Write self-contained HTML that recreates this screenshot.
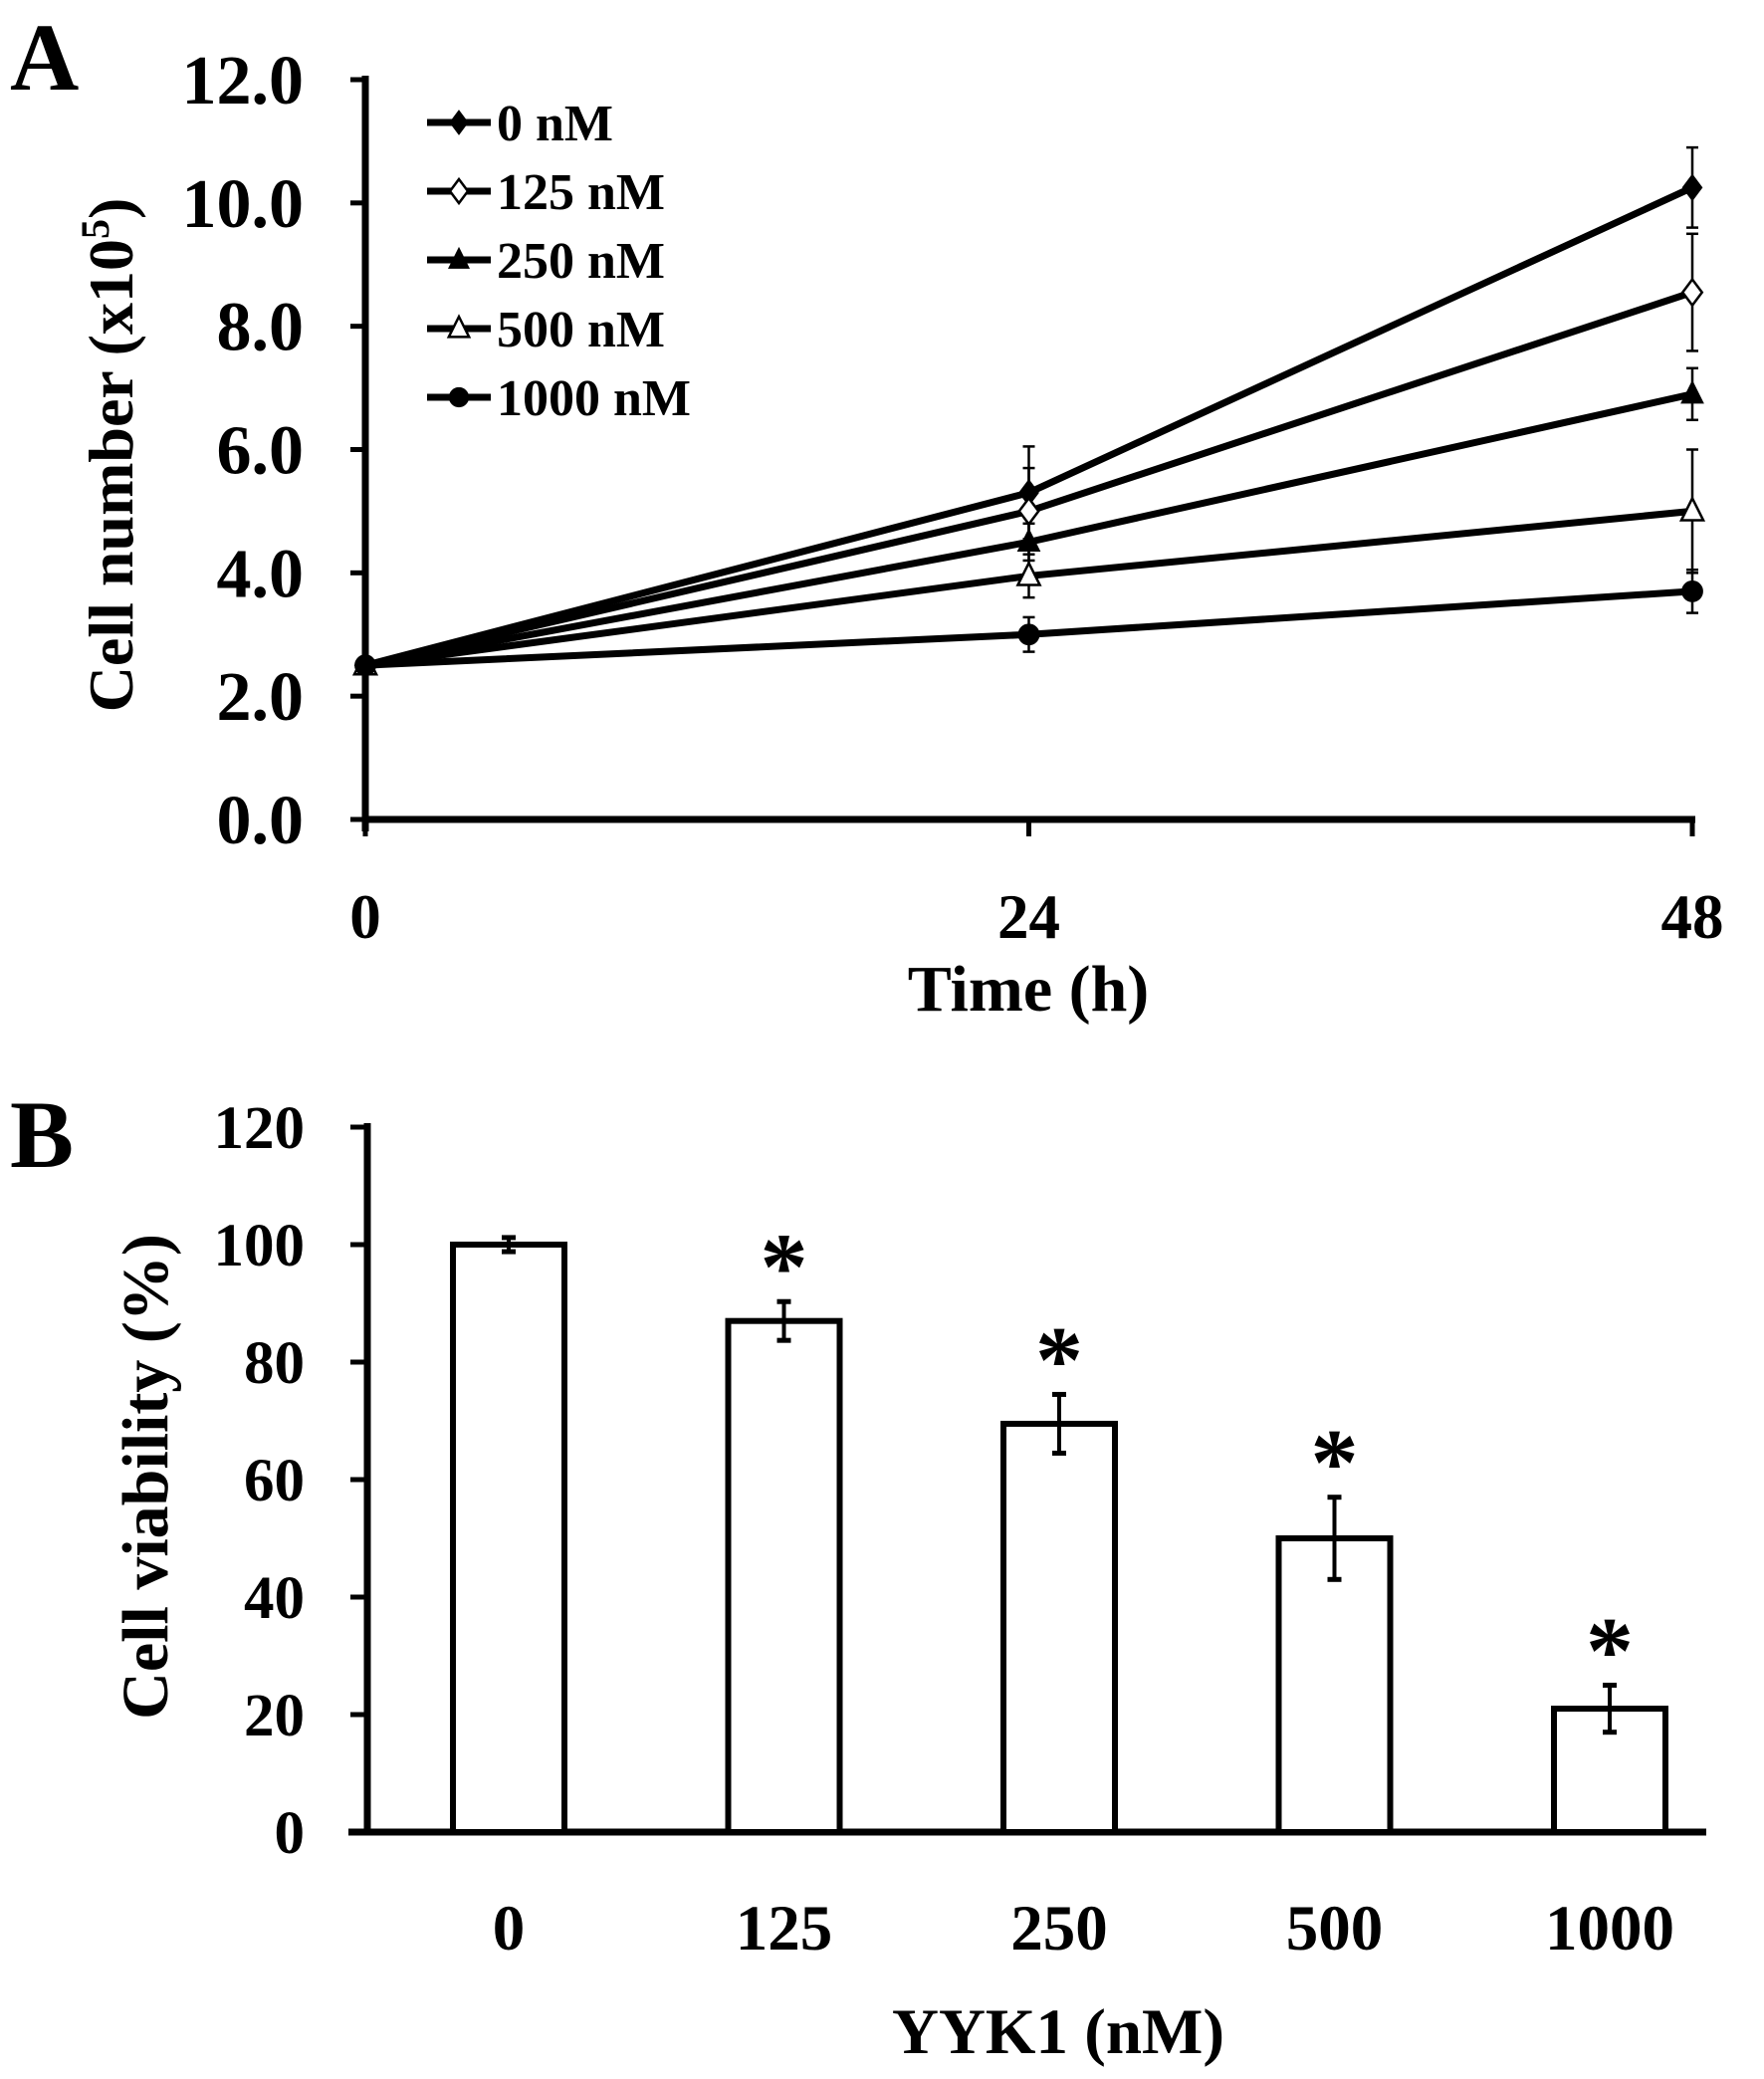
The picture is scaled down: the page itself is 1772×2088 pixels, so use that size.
<!DOCTYPE html>
<html><head><meta charset="utf-8"><style>
html,body{margin:0;padding:0;background:#fff}
svg{display:block}
text{font-family:"Liberation Serif",serif;font-weight:bold;fill:#000}
</style></head><body>
<svg id="fig" width="1772" height="2088" viewBox="0 0 1772 2088">
<text x="10" y="90" font-size="96">A</text>
<text x="10" y="1172" font-size="96">B</text>
<g id="ga"></g>
<g id="gb"></g>
</svg>
<script>
// ---- Chart A data ----
const timesA = [0, 24, 48];
const seriesNames = ["0 nM", "125 nM", "250 nM", "500 nM", "1000 nM"];
const s0 = [2.5, 5.3, 10.25];
const s125 = [2.5, 5.0, 8.55];
const s250 = [2.5, 4.5, 6.9];
const s500 = [2.5, 3.95, 5.0];
const s1000 = [2.5, 3.0, 3.7];
const e0 = [0.05, 0.75, 0.65];
const e125 = [0.05, 0.7, 0.95];
const e250 = [0.05, 0.3, 0.42];
const e500 = [0.05, 0.35, 1.0];
const e1000 = [0.05, 0.28, 0.35];
const markers = ["diamondF", "diamondO", "triF", "triO", "circF"];
const yTicksA = ["0.0", "2.0", "4.0", "6.0", "8.0", "10.0", "12.0"];
// ---- Chart B data ----
const catsB = ["0", "125", "250", "500", "1000"];
const valsB = [100, 87, 69.5, 50, 21];
const errsB = [1.2, 3.3, 5, 7, 4];
const starB = [false, true, true, true, true];
const yTicksB = ["0", "20", "40", "60", "80", "100", "120"];

const NS = "http://www.w3.org/2000/svg";
function mk(parent, tag, attrs, txt) {
  const e = document.createElementNS(NS, tag);
  for (const k in attrs) e.setAttribute(k, attrs[k]);
  if (txt !== undefined) e.textContent = txt;
  parent.appendChild(e);
  return e;
}
const ga = document.getElementById("ga");
const gb = document.getElementById("gb");
const LW = 7;

// ----- Chart A -----
const xA = t => 367 + (t - 0) / 48 * (1700 - 367);
const yA = v => 823 - v / 12 * (823 - 80);
let el;
el = mk(ga, "line", {x1: 367, y1: 76, x2: 367, y2: 835, stroke: "#000", "stroke-width": LW});


el = mk(ga, "line", {x1: 364, y1: 823, x2: 1703, y2: 823, stroke: "#000", "stroke-width": LW});


yTicksA.forEach(t => {
  const y = yA(parseFloat(t));
  mk(ga, "line", {x1: 352, y1: y, x2: 367, y2: y, stroke: "#000", "stroke-width": 5});
  el = mk(ga, "text", {x: 305, y: y + 24, "font-size": 70, "text-anchor": "end"}, t);
  
  
});
timesA.forEach(t => {
  const x = xA(t);
  mk(ga, "line", {x1: x, y1: 823, x2: x, y2: 840, stroke: "#000", "stroke-width": 5});
  el = mk(ga, "text", {x: x, y: 942, "font-size": 63, "text-anchor": "middle"}, String(t));
  
  
});
el = mk(ga, "text", {x: 1033, y: 1015, "font-size": 66, "text-anchor": "middle"}, "Time (h)");


el = mk(ga, "text", {x: 0, y: 0, "font-size": 64, "text-anchor": "middle", transform: "translate(133,457) rotate(-90)"});


mk(el, "tspan", {}, "Cell number (x10");
mk(el, "tspan", {dy: -24, "font-size": 40}, "5");
mk(el, "tspan", {dy: 24}, ")");

function marker(g, type, x, y, s) {
  let e;
  if (type.startsWith("diamond")) {
    e = mk(g, "polygon", {points: `${x},${y-s} ${x+s*0.75},${y} ${x},${y+s} ${x-s*0.75},${y}`});
  } else if (type.startsWith("tri")) {
    e = mk(g, "polygon", {points: `${x},${y-s} ${x+s*0.85},${y+s*0.7} ${x-s*0.85},${y+s*0.7}`});
  } else {
    e = mk(g, "circle", {cx: x, cy: y, r: s * 0.8});
  }
  const filled = type.endsWith("F");
  e.setAttribute("fill", filled ? "#000" : "#fff");
  e.setAttribute("stroke", "#000");
  e.setAttribute("stroke-width", filled ? 1 : 2.5);
  return e;
}
const allS = [s0, s125, s250, s500, s1000];
const allE = [e0, e125, e250, e500, e1000];
allS.forEach((s, i) => {
  const g = mk(ga, "g", {});
  
  
  const pts = s.map((v, j) => `${xA(timesA[j])},${yA(v)}`).join(" ");
  mk(g, "polyline", {points: pts, fill: "none", stroke: "#000", "stroke-width": LW});
  s.forEach((v, j) => {
    const x = xA(timesA[j]);
    const eTop = yA(v + allE[i][j]), eBot = yA(v - allE[i][j]);
    mk(g, "line", {x1: x, y1: eTop, x2: x, y2: eBot, stroke: "#000", "stroke-width": 2.5});
    mk(g, "line", {x1: x - 6, y1: eTop, x2: x + 6, y2: eTop, stroke: "#000", "stroke-width": 2.5});
    mk(g, "line", {x1: x - 6, y1: eBot, x2: x + 6, y2: eBot, stroke: "#000", "stroke-width": 2.5});
    const m = marker(g, markers[i], x, yA(v), 13);
    
    
  });
});
// legend
seriesNames.forEach((n, i) => {
  const y = 123 + i * 69;
  const g = mk(ga, "g", {});
  
  
  mk(g, "line", {x1: 429, y1: y, x2: 493, y2: y, stroke: "#000", "stroke-width": LW});
  marker(g, markers[i], 461, y, 12);
  mk(g, "text", {x: 499, y: y + 18, "font-size": 52}, n);
});

// ----- Chart B -----
const xB = i => 511 + i * 276.5;
const yB = v => 1840 - v / 120 * (1840 - 1132);
el = mk(gb, "line", {x1: 369, y1: 1128, x2: 369, y2: 1843, stroke: "#000", "stroke-width": LW});


el = mk(gb, "line", {x1: 350, y1: 1840, x2: 1714, y2: 1840, stroke: "#000", "stroke-width": LW});


yTicksB.forEach(t => {
  const y = yB(parseFloat(t));
  mk(gb, "line", {x1: 352, y1: y, x2: 369, y2: y, stroke: "#000", "stroke-width": 5});
  el = mk(gb, "text", {x: 306, y: y + 21, "font-size": 61, "text-anchor": "end"}, t);
  
  
});
catsB.forEach((c, i) => {
  const x = xB(i), v = valsB[i], e = errsB[i];
  el = mk(gb, "rect", {x: x - 56, y: yB(v), width: 112, height: 1840 - yB(v), fill: "#fff", stroke: "#000", "stroke-width": 6});
  
  
  const t = yB(v + e), b = yB(v - e);
  mk(gb, "line", {x1: x, y1: t, x2: x, y2: b, stroke: "#000", "stroke-width": 4});
  mk(gb, "line", {x1: x - 7, y1: t, x2: x + 7, y2: t, stroke: "#000", "stroke-width": 5});
  mk(gb, "line", {x1: x - 7, y1: b, x2: x + 7, y2: b, stroke: "#000", "stroke-width": 5});
  if (starB[i]) {
    el = mk(gb, "text", {x: x, y: t - 2, "font-size": 96, "text-anchor": "middle"}, "*");
    
    
  }
  el = mk(gb, "text", {x: x, y: 1958, "font-size": 65, "text-anchor": "middle"}, c);
  
  
});
el = mk(gb, "text", {x: 1063, y: 2062, "font-size": 65, "text-anchor": "middle"}, "YYK1 (nM)");


el = mk(gb, "text", {x: 0, y: 0, "font-size": 66, "text-anchor": "middle", transform: "translate(168,1483) rotate(-90)"}, "Cell viability (%)");


</script>
</body></html>
